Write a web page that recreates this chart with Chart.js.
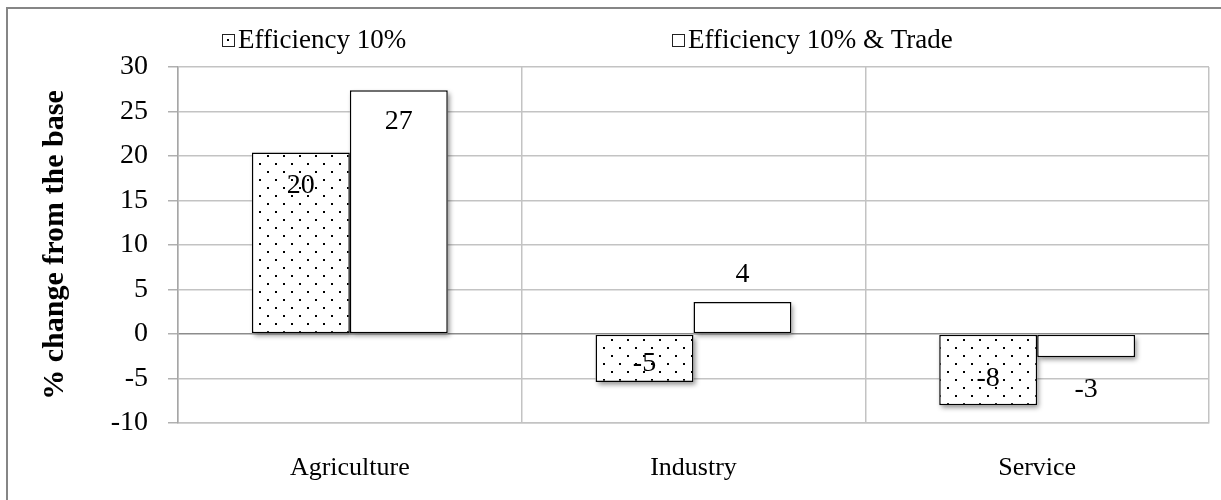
<!DOCTYPE html>
<html><head><meta charset="utf-8">
<script src="https://cdn.jsdelivr.net/npm/chart.js@4.4.1/dist/chart.umd.min.js"></script>
<style>html,body{margin:0;padding:0;background:#fff;}#wrap{width:1221px;height:500px;position:relative;}</style>
</head><body><div id="wrap"><canvas id="c" width="1221" height="500"></canvas></div>
<script>
const categories = ['Agriculture', 'Industry', 'Service'];
const seriesNames = ['Efficiency 10%', 'Efficiency 10% & Trade'];
const efficiency = [20.4, -5.4, -8.0];
const efficiencyTrade = [27.4, 3.6, -2.6];
const yMin = -10, yMax = 30, yStep = 5;
const yTitle = '% change from the base';

const FONT = '"Liberation Serif", "Times New Roman", serif';
Chart.defaults.font.family = FONT;
Chart.defaults.color = '#000';

function dotPattern(ctx) {
  const c = document.createElement('canvas'); c.width = 16; c.height = 16;
  const g = c.getContext('2d');
  g.fillStyle = '#fff'; g.fillRect(0, 0, 16, 16);
  g.fillStyle = '#000'; g.fillRect(3, 3, 2, 2); g.fillRect(11, 11, 2, 2);
  return ctx.createPattern(c, 'repeat');
}

const frame = {
  id: 'frame',
  beforeDraw(chart) {
    const ctx = chart.ctx;
    ctx.save();
    ctx.fillStyle = '#fff'; ctx.fillRect(0, 0, chart.width, chart.height);
    ctx.strokeStyle = '#868686'; ctx.lineWidth = 2;
    ctx.strokeRect(7, 8, chart.width + 50, chart.height + 50);
    ctx.restore();
  }
};

const barDeco = {
  id: 'barDeco',
  beforeDatasetsDraw(chart) {
    const ctx = chart.ctx;
    ctx.save();
    ctx.shadowColor = 'rgba(0,0,0,0.45)'; ctx.shadowBlur = 5; ctx.shadowOffsetX = 2; ctx.shadowOffsetY = 3;
    ctx.fillStyle = '#fff';
    chart.data.datasets.forEach((ds, i) => {
      chart.getDatasetMeta(i).data.forEach(b => {
        const top = Math.min(b.y, b.base), h = Math.abs(b.base - b.y);
        ctx.fillRect(b.x - b.width / 2, top, b.width, h);
      });
    });
    ctx.restore();
  },
  afterDatasetsDraw(chart, args, opts) {
    const ctx = chart.ctx;
    ctx.save();
    ctx.font = '28px ' + FONT; ctx.fillStyle = '#000';
    ctx.textAlign = 'center'; ctx.textBaseline = 'middle';
    chart.data.datasets.forEach((ds, i) => {
      chart.getDatasetMeta(i).data.forEach((b, j) => {
        const v = ds.data[j];
        const off = opts.offsets[i][j];
        const y = v >= 0 ? b.y + off : b.y - off;
        const txt = String(Math.sign(v) * Math.round(Math.abs(v)));
        ctx.fillText(txt, b.x, y);
      });
    });
    ctx.restore();
  }
};

const legendDraw = {
  id: 'legendDraw',
  afterDraw(chart, args, opts) {
    const ctx = chart.ctx;
    ctx.save();
    ctx.font = '27px ' + FONT; ctx.textBaseline = 'middle'; ctx.textAlign = 'left';
    chart.data.datasets.forEach((ds, i) => {
      const x = opts.x[i], y = opts.y;
      ctx.fillStyle = '#fff'; ctx.fillRect(x, y - 6, 12, 12);
      if (i === 0) { ctx.fillStyle = '#000'; ctx.fillRect(x + 5, y - 1, 2, 2); }
      ctx.strokeStyle = '#222'; ctx.lineWidth = 1; ctx.strokeRect(x + 0.5, y - 5.5, 12, 12);
      ctx.fillStyle = '#000'; ctx.fillText(ds.label, x + 16, y + 1);
    });
    ctx.restore();
  }
};

const ctx = document.getElementById('c').getContext('2d');
const pat = dotPattern(ctx);
const chart = new Chart(ctx, {
  type: 'bar',
  data: {
    labels: categories,
    datasets: [
      { label: seriesNames[0], data: efficiency, backgroundColor: pat, borderColor: '#000', borderWidth: 1.5, borderSkipped: false },
      { label: seriesNames[1], data: efficiencyTrade, backgroundColor: '#fff', borderColor: '#000', borderWidth: 1.5, borderSkipped: false }
    ]
  },
  options: {
    responsive: false, animation: false,
    layout: { padding: { left: 22, top: 67, right: 12, bottom: 18 } },
    datasets: { bar: { categoryPercentage: 0.57, barPercentage: 1.0 } },
    plugins: {
      legend: { display: false }, tooltip: { enabled: false },
      barDeco: { offsets: [[33, 18, 27], [32, -27, -33]] },
      legendDraw: { x: [222, 672], y: 40 }
    },
    scales: {
      x: {
        grid: { offset: true, color: '#c3c3c3', lineWidth: 1.5, drawTicks: false },
        border: { display: true, color: '#c3c3c3', width: 1.5 },
        ticks: { padding: 30, font: { size: 26 }, color: '#000' },
        afterFit: s => { s.height = 59; }
      },
      y: {
        min: yMin, max: yMax,
        ticks: { stepSize: yStep, padding: 20, font: { size: 28 }, color: '#000' },
        grid: {
          color: c => (c.tick && c.tick.value === 0) ? '#8c8c8c' : '#c3c3c3',
          lineWidth: 1.5, tickLength: 10, tickColor: '#b0b0b0'
        },
        border: { display: true, color: '#a6a6a6', width: 1.5 },
        title: { display: true, text: yTitle, font: { size: 30, weight: 'bold' }, color: '#000', padding: { top: 15, bottom: 0 } },
        afterFit: s => { s.width = 156; }
      }
    }
  },
  plugins: [frame, barDeco, legendDraw]
});
</script></body></html>
